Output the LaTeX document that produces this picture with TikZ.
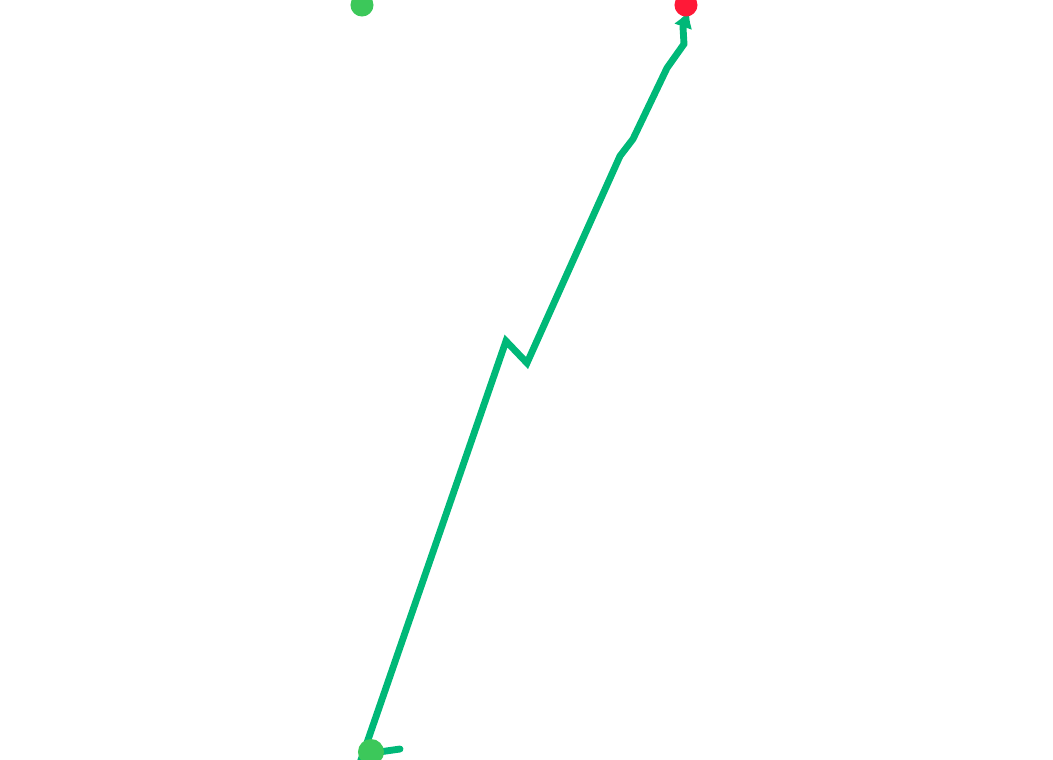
\documentclass[tikz,border=0pt]{standalone}
\usepackage{tikz}
\usetikzlibrary{arrows.meta}
\definecolor{pathgreen}{RGB}{0,184,120}
\definecolor{dotgreen}{RGB}{60,200,90}
\definecolor{dotred}{RGB}{255,25,55}

\begin{document}
\begin{tikzpicture}[x=0.01cm, y=-0.01cm, >=Latex,
  dot/.style={circle, inner sep=0pt, minimum size=0.23cm},
  track/.style={pathgreen, line width=1.95pt, line join=miter}]
  % Frame and clip
  \useasboundingbox (0,0) rectangle (1053,759);
  \clip (0,0) rectangle (1053,759);

  % Points
  \coordinate (T0) at (400,749);
  \coordinate (T1) at (372,753);
  \coordinate (T2) at (361,760);
  \coordinate (T3) at (506,341);
  \coordinate (T4) at (527,363);
  \coordinate (T5) at (620,156);
  \coordinate (T6) at (633,139);
  \coordinate (T7) at (667,68);
  \coordinate (T8) at (684,44);
  \coordinate (T9) at (683,27);
  \coordinate (T10) at (689,10);

  % Track
  \draw[track, line cap=round] (T0) -- (T1);
  \draw[track, -{Latex[length=5pt, width=5.5pt]}]
    (T1) -- (T2) -- (T3) -- (T4) -- (T5) -- (T6) -- (T7) -- (T8) -- (T9) -- (T10);

  % Markers
  \node[dot, fill=dotgreen] (start) at (362,5) {};
  \node[dot, fill=dotgreen, minimum size=0.26cm] (here) at (371,752) {};
  \node[dot, fill=dotred] (goal) at (686,5) {};
\end{tikzpicture}
\end{document}
